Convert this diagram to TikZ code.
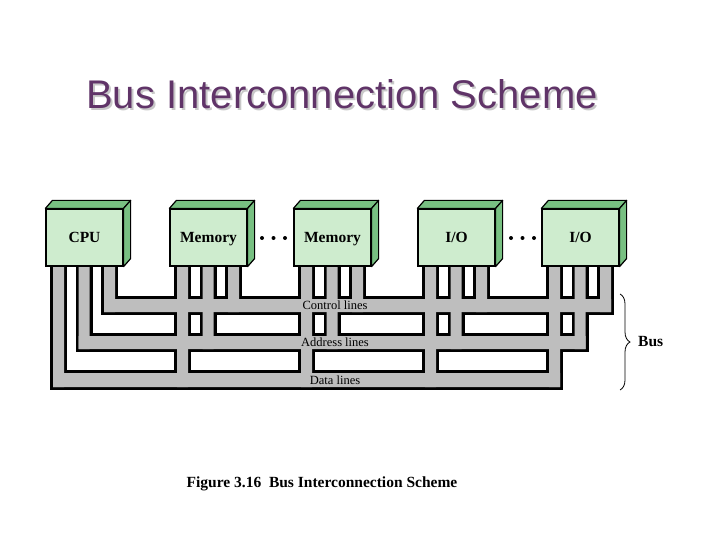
\documentclass[tikz,border=0pt]{standalone}
\usepackage{fontspec}
\setmainfont{Liberation Serif}
\setsansfont{Liberation Sans}
\usetikzlibrary{decorations.pathreplacing}
\definecolor{titlepurple}{RGB}{96,52,104}
\definecolor{titleshadow}{RGB}{200,200,200}
\definecolor{boxfront}{RGB}{206,236,206}
\definecolor{boxside}{RGB}{120,192,130}
\definecolor{busgray}{RGB}{190,190,190}
\tikzset{
  busedge/.style={draw=black, line width=6pt},
  busfill/.style={fill=busgray},
  module/.style={draw, line width=1.2pt, fill=boxfront, minimum width=77pt, minimum height=57pt, inner sep=0pt, text height=10.5pt, text depth=0pt, font=\fontsize{15.5}{18}\selectfont\bfseries},
  face/.style={draw, line width=1.2pt, fill=boxside, line join=round},
  buslabel/.style={inner sep=0pt, font=\fontsize{12.5}{14}\selectfont},
  heading/.style={anchor=base, inner sep=0pt, font=\sffamily\fontsize{40}{48}\selectfont}
}

\begin{document}
\begin{tikzpicture}[x=1pt,y=-1pt]
\useasboundingbox (0,0) rectangle (720,540);
% title with its shadow
\node[heading, text=titleshadow] (shadow) at (344,111) {Bus Interconnection Scheme};
\node[heading, text=titlepurple] (title) at (342,109) {Bus Interconnection Scheme};
% bus lines: edges first, then the gray fill over them
\foreach \pass in {busedge,busfill} {
  \path[\pass] (104,299) rectangle (611,312) (78.5,336) rectangle (585.5,349) (53,373) rectangle (560,387);
  \foreach \m in {46,170,294,418,542}
    \path[\pass] (\m+7,262) rectangle (\m+18,387) (\m+32.5,262) rectangle (\m+43.5,349) (\m+58,262) rectangle (\m+69,312);
}
% modules
\node[module] (cpu) at (84.5,237.5) {CPU};
\node[module] (mem1) at (208.5,237.5) {Memory};
\node[module] (mem2) at (332.5,237.5) {Memory};
\node[module] (io1) at (456.5,237.5) {I/O};
\node[module] (io2) at (580.5,237.5) {I/O};
\foreach \n in {cpu,mem1,mem2,io1,io2} {
  \filldraw[face] (\n.north west) -- ++(7,-8) -- ([shift={(7,-8)}]\n.north east) -- (\n.north east) -- cycle;
  \filldraw[face] (\n.north east) -- ++(7,-8) -- ([shift={(7,-8)}]\n.south east) -- (\n.south east) -- cycle;
}
\fill (262,238) circle (2) (273.5,238) circle (2) (285,238) circle (2);
\fill (511,238) circle (2) (522.5,238) circle (2) (534,238) circle (2);
\node[buslabel] (ctl) at (335,305.5) {Control lines};
\node[buslabel] (adr) at (335,342.5) {Address lines};
\node[buslabel] (dat) at (335,380) {Data lines};
% brace
\coordinate (btop) at (620,294);
\coordinate (bbot) at (620,390);
\draw[line width=0.8pt, decorate, decoration={brace, amplitude=10pt}] (btop) -- (bbot);
\node[anchor=west, inner sep=0pt, font=\fontsize{15.5}{18}\selectfont\bfseries] (bus) at (638,342) {Bus};
\node[inner sep=0pt, font=\fontsize{15.5}{18}\selectfont\bfseries] (caption) at (322,484) {Figure 3.16\ \ Bus Interconnection Scheme};
\end{tikzpicture}
\end{document}
